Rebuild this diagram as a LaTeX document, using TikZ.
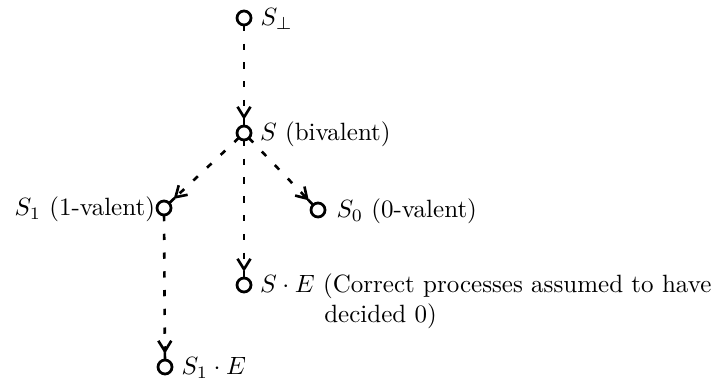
\documentclass[tikz,border=0pt]{standalone}
\usetikzlibrary{arrows.meta,decorations.markings}
\begin{document}
\begin{tikzpicture}[x=0.4pt,y=-0.4pt,
  state/.style={circle,draw,line width=1.1pt,minimum size=5.6pt,inner sep=0pt,outer sep=0pt},
  lbl/.style={inner sep=0pt},
  conn/.style={line width=1.05pt,dash pattern=on 2.5pt off 5pt,
    postaction={decorate},
    decoration={markings,mark=at position -2.5pt with {\arrow[line width=1.05pt]{Straight Barb[length=4.2pt,width=5.2pt]}; \draw[solid,line width=1.05pt] (-0.5pt,0)--(2.5pt,0);}}}
]
\useasboundingbox (0,0) rectangle (718,385);
\node[state] (sb) at (244,18) {};
\node[state] (s) at (244,133) {};
\node[state] (s1) at (164,208) {};
\node[state] (s0) at (318,210) {};
\node[state] (se) at (244,285) {};
\node[state] (s1e) at (165,367) {};

\node[lbl,anchor=base west] (sbL) at ([xshift=3.6pt,yshift=-3pt]sb.east) {$S_\perp$};
\node[lbl,anchor=base west] (sL) at ([xshift=3.4pt,yshift=-3pt]s.east) {$S$ (bivalent)};
\node[lbl,anchor=base east] (s1L) at ([xshift=-0.6pt,yshift=-3pt]s1.west) {$S_1$ (1-valent)};
\node[lbl,anchor=base west] (s0L) at ([xshift=4.4pt,yshift=-3pt]s0.east) {$S_0$ (0-valent)};
\node[lbl,anchor=base west] (seL) at ([xshift=3.4pt,yshift=-3pt]se.east) {\begin{tabular}[t]{@{}l@{\ }l@{}}$S\cdot E$ & (Correct processes assumed to have\\ & \hspace{0.5pt}decided 0)\end{tabular}};
\node[lbl,anchor=base west] (s1eL) at ([xshift=3.6pt,yshift=-3pt]s1e.east) {$S_1\cdot E$};

\draw[conn] (sb) -- (s);
\draw[conn] (s) -- (s1);
\draw[conn] (s) -- (s0);
\draw[conn] (s) -- (se);
\draw[conn] (s1) -- (s1e);
\end{tikzpicture}
\end{document}
